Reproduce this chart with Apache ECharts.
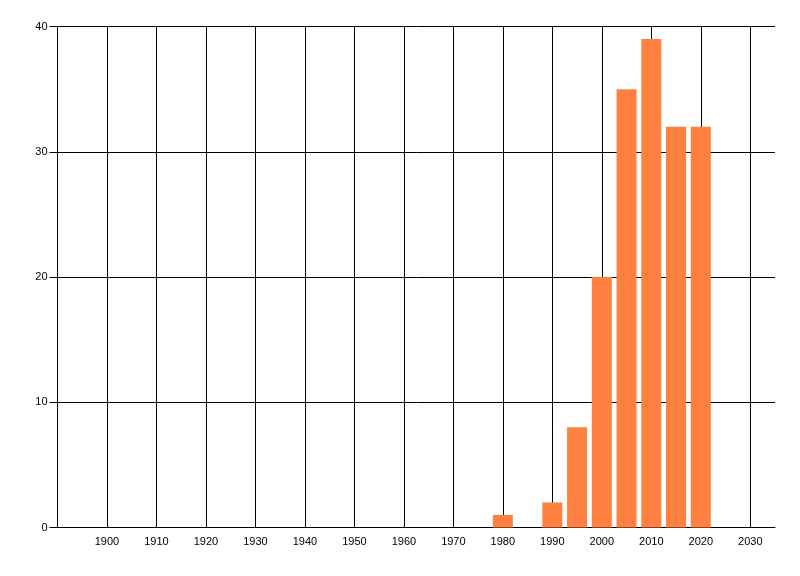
<!DOCTYPE html>
<html>
<head>
<meta charset="utf-8">
<script src="https://cdn.jsdelivr.net/npm/echarts@6/dist/echarts.min.js"></script>
<style>
html,body{margin:0;padding:0;background:#fff;}
#chart{width:800px;height:576px;}
</style>
</head>
<body>
<div id="chart"></div>
<script>
var years = [1980, 1990, 1995, 2000, 2005, 2010, 2015, 2020];
var counts = [1, 2, 8, 20, 35, 39, 32, 32];
var xTicks = [1900, 1910, 1920, 1930, 1940, 1950, 1960, 1970, 1980, 1990, 2000, 2010, 2020, 2030];
var yTicks = [0, 10, 20, 30, 40];

var chart = echarts.init(document.getElementById('chart'));
var font = 'Liberation Sans, Arial, sans-serif';
chart.setOption({
  animation: false,
  backgroundColor: '#ffffff',
  grid: {left: 57.5, right: 25, top: 26.5, bottom: 48.5, containLabel: false},
  xAxis: {
    type: 'value',
    min: 1890,
    max: 2035,
    interval: 10,
    axisLine: {show: true, lineStyle: {color: '#000', width: 1}},
    axisTick: {show: false},
    axisLabel: {
      color: '#000', fontFamily: font, fontSize: 11, margin: 9,
      showMinLabel: false, showMaxLabel: false,
      formatter: function (v) { return xTicks.indexOf(v) >= 0 ? String(v) : ''; }
    },
    splitLine: {show: false}
  },
  yAxis: {
    type: 'value',
    min: 0,
    max: 40,
    interval: 10,
    axisLine: {show: true, lineStyle: {color: '#000', width: 1}},
    axisTick: {show: true, inside: false, length: 8, lineStyle: {color: '#000', width: 1}},
    axisLabel: {
      color: '#000', fontFamily: font, fontSize: 11, margin: 10,
      formatter: function (v) { return yTicks.indexOf(v) >= 0 ? String(v) : ''; }
    },
    splitLine: {show: true, lineStyle: {color: '#000', width: 1}}
  },
  series: [{
    type: 'line',
    data: [],
    silent: true,
    markLine: {
      silent: true,
      symbol: ['none', 'none'],
      label: {show: false},
      lineStyle: {color: '#000', width: 1, type: 'solid'},
      data: xTicks.map(function (t) { return {xAxis: t}; })
    }
  }, {
    type: 'bar',
    zlevel: 1,
    data: years.map(function (y, i) { return [y, counts[i]]; }),
    barWidth: 20,
    itemStyle: {color: '#FF8040'}
  }]
});
</script>
</body>
</html>
